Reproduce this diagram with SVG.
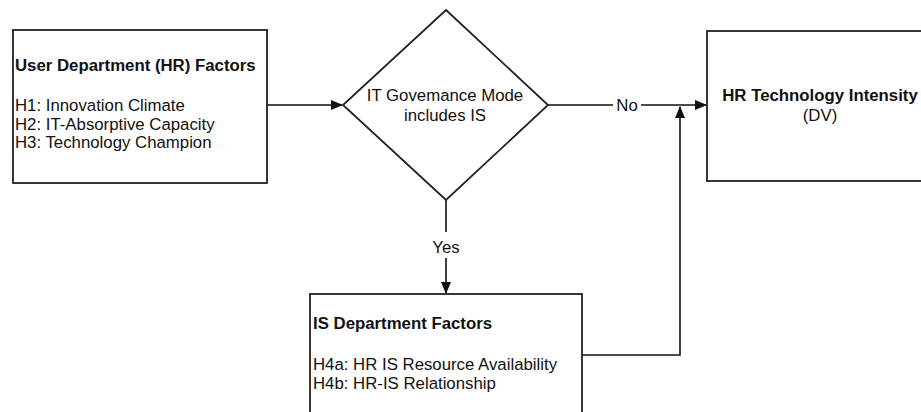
<svg xmlns="http://www.w3.org/2000/svg" width="921" height="412" viewBox="0 0 921 412">
<defs>
<style>
.box{fill:#fff;stroke:#222;stroke-width:1.8}
.ln{fill:none;stroke:#111;stroke-width:1.6}
text{font-family:"Liberation Sans",Arial,sans-serif;font-size:16.8px;fill:#111}
.b{font-weight:bold}
.c{text-anchor:middle}
</style>
<marker id="ah" markerWidth="12" markerHeight="10" refX="11" refY="5" orient="auto" markerUnits="userSpaceOnUse">
<path d="M0,0 L12,5 L0,10 Z" fill="#111"/>
</marker>
</defs>
<rect width="921" height="412" fill="#fff"/>
<g id="connectors">
<line class="ln" x1="267" y1="105" x2="342" y2="105" marker-end="url(#ah)"/>
<line class="ln" x1="548" y1="105" x2="613" y2="105"/>
<line class="ln" x1="641" y1="105" x2="706" y2="105" marker-end="url(#ah)"/>
<text class="c" x="627" y="111">No</text>
<line class="ln" x1="446" y1="200" x2="446" y2="232"/>
<line class="ln" x1="446" y1="258" x2="446" y2="293" marker-end="url(#ah)"/>
<text class="c" x="446" y="253">Yes</text>
<polyline class="ln" points="582,355 680,355 680,107" marker-end="url(#ah)"/>
</g>
<g id="user-dept">
<rect class="box" x="13" y="30" width="254" height="153"/>
<text class="b" x="15" y="71">User Department (HR) Factors</text>
<text x="15" y="111">H1: Innovation Climate</text>
<text x="15" y="129.5">H2: IT-Absorptive Capacity</text>
<text x="15" y="148">H3: Technology Champion</text>
</g>
<g id="decision">
<polygon class="box" points="446,10 548,105 446,200 343,105"/>
<text class="c" x="445" y="101">IT Govemance Mode</text>
<text class="c" x="445" y="121">includes IS</text>
</g>
<g id="hr-tech">
<rect class="box" x="707" y="31" width="220" height="150"/>
<text class="b c" x="820" y="101">HR Technology Intensity</text>
<text class="c" x="820" y="121">(DV)</text>
</g>
<g id="is-dept">
<rect class="box" x="310" y="294" width="272" height="130"/>
<text class="b" x="313" y="329">IS Department Factors</text>
<text x="313" y="370">H4a: HR IS Resource Availability</text>
<text x="313" y="389">H4b: HR-IS Relationship</text>
</g>
</svg>
